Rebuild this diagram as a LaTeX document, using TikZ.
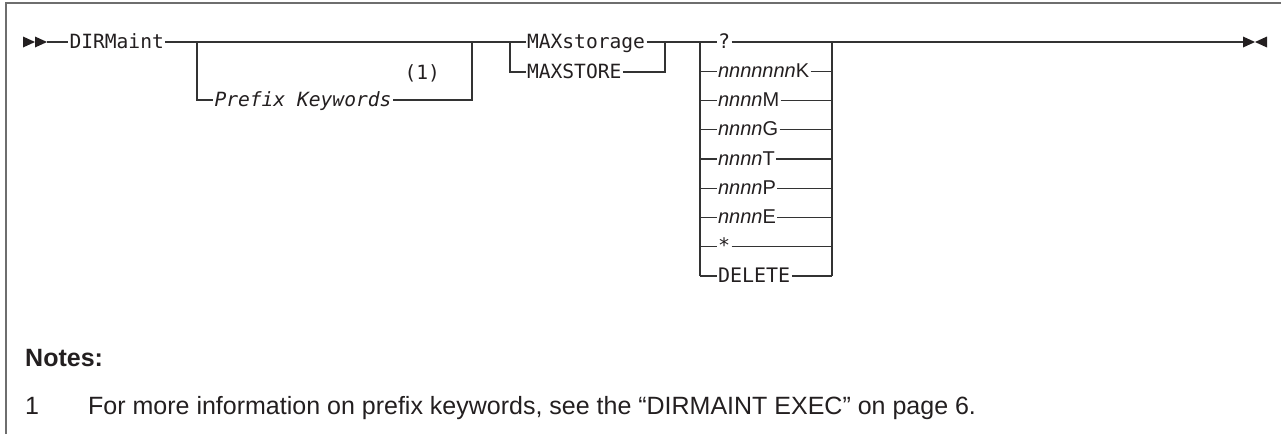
\documentclass[tikz,border=0pt]{standalone}
\usepackage{fontspec}
\setmainfont{Liberation Sans}
\newfontfamily\synfont{DejaVu Sans Mono}
\usepackage{xcolor}
\definecolor{synink}{HTML}{231F20}
\definecolor{synline}{HTML}{333333}
\definecolor{synframe}{HTML}{6E6E6E}
\usepackage{tikz}
\usetikzlibrary{positioning,calc}

\begin{document}
\begin{tikzpicture}[x=1pt,y=-1pt,
  kw/.style={inner sep=1.5pt,outer sep=0pt,anchor=west,text height=12pt,text depth=0pt,
    text=synink,font=\synfont\fontsize{19.6}{20}\selectfont},
  var/.style={kw,font=\fontsize{20}{20}\selectfont},
  rail/.style={draw=synline,line width=1.3pt},
  tip/.style={fill=synink,draw=none},
  notetext/.style={inner sep=0pt,anchor=base west,text=synink,font=\fontsize{25}{28}\selectfont}]
\useasboundingbox (0,0) rectangle (1281,434);
\draw[synframe,line width=1.5pt] (6,434) -- (6,3) -- (1281,3);

% rails and branch points
\coordinate (begin) at (47,42);
\coordinate (j1) at (197,42);
\coordinate (k1) at (472,42);
\coordinate (j2) at (510,42);
\coordinate (k2) at (665,42);
\coordinate (j3) at (700,42);
\coordinate (k3) at (832,42);
\coordinate (finish) at (1243,42);

\fill[tip] (23,36.5) -- (35,42) -- (23,47.5) -- cycle;
\fill[tip] (35,36.5) -- (begin) -- (35,47.5) -- cycle;
\fill[tip] (finish) ++(0,-5.5) -- (1255,42) -- (1243,47.5) -- cycle;
\fill[tip] (1267,36.5) -- (1255,42) -- (1267,47.5) -- cycle;

\node[kw] (dirm) at (68,42) {DIRMaint};
\node[kw] (prefix) at (213,100) {\itshape Prefix Keywords};
\node[kw] (ref1) at (403,73) {(1)};
\node[kw] (maxs) at (525.5,42) {MAXstorage};
\node[kw] (maxst) at (525.5,72) {MAXSTORE};

\foreach \lab [count=\i] in {{\synfont ?},{\itshape nnnnnnn}K,{\itshape nnnn}M,{\itshape nnnn}G,
    {\itshape nnnn}T,{\itshape nnnn}P,{\itshape nnnn}E,{\synfont *},{\synfont DELETE}}
  \node[var] (opt\i) at (716.5,{42+(\i-1)*29.25}) {\lab};

\draw[rail] (begin) -- (dirm.west);
\draw[rail] (dirm.east) -- (j1) -- (k1) -- (j2) -- (maxs.west);
\draw[rail] (j1) |- (prefix.west);
\draw[rail] (prefix.east) -| (k1);
\draw[rail] (j2) |- (maxst.west);
\draw[rail] (maxst.east) -| (k2);
\draw[rail] (maxs.east) -- (k2) -- (j3) -- (opt1.west);
\draw[rail] (j3) -- (j3 |- opt9);
\draw[rail] (k3) -- (k3 |- opt9);
\foreach \i in {2,...,9}
  \draw[rail] (j3 |- opt\i) -- (opt\i.west) (opt\i.east) -- (k3 |- opt\i);
\draw[rail] (opt1.east) -- (k3) -- (finish);

\node[notetext,font=\bfseries\fontsize{25}{28}\selectfont] (notes) at (25,366) {Notes:};
\node[notetext] (fn1) at (25,414) {1};
\node[notetext] (fn1text) at (88,414) {For more information on prefix keywords, see the “DIRMAINT EXEC” on page 6.};
\end{tikzpicture}
\end{document}
